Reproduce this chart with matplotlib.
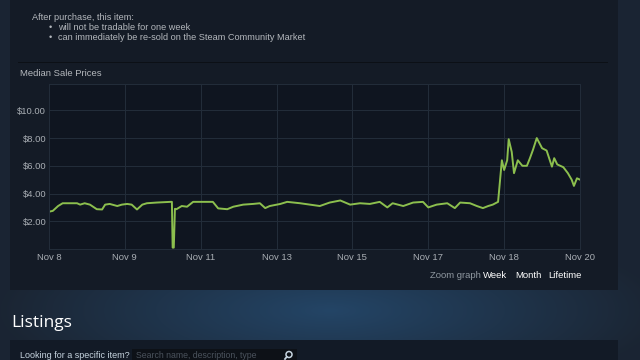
import numpy as np
import matplotlib
matplotlib.use("Agg")
import matplotlib.pyplot as plt
from matplotlib.patches import Rectangle, Circle

plt.rcParams['font.family'] = ['Liberation Sans', 'DejaVu Sans']

# x positions measured in tick intervals (0 = Nov 8, 7 = Nov 20)
tick_labels = ["Nov 8", "Nov 9", "Nov 11", "Nov 13", "Nov 15", "Nov 17", "Nov 18", "Nov 20"]
y_ticks = [2, 4, 6, 8, 10]

pos = [0.00, 0.05, 0.12, 0.18, 0.37, 0.41, 0.47, 0.54, 0.63, 0.70, 0.74, 0.80,
       0.90, 0.96, 1.03, 1.09, 1.16, 1.23, 1.29, 1.42, 1.60, 1.62, 1.63, 1.645,
       1.66, 1.68, 1.75, 1.82, 1.90, 2.16, 2.23, 2.35, 2.43, 2.56, 2.69, 2.78,
       2.85, 2.91, 3.05, 3.14, 3.31, 3.44, 3.57, 3.70, 3.84, 3.97, 4.10, 4.23,
       4.36, 4.46, 4.53, 4.67, 4.80, 4.93, 5.00, 5.11, 5.25, 5.35, 5.42, 5.55,
       5.64, 5.72, 5.79, 5.85, 5.92, 5.97, 6.00, 6.04, 6.06, 6.10, 6.13, 6.18,
       6.24, 6.30, 6.34, 6.38, 6.43, 6.50, 6.56, 6.63, 6.66, 6.70, 6.78, 6.84,
       6.89, 6.92, 6.96, 7.00]
price = [2.69, 2.75, 3.10, 3.30, 3.30, 3.20, 3.30, 3.20, 2.87, 2.85, 3.20, 3.25,
         3.10, 3.20, 3.25, 3.20, 2.85, 3.20, 3.30, 3.35, 3.40, 3.40, 0.10, 0.10,
         2.90, 2.87, 3.10, 3.05, 3.40, 3.40, 2.93, 2.87, 3.05, 3.20, 3.25, 3.30,
         2.95, 3.10, 3.25, 3.40, 3.30, 3.20, 3.10, 3.35, 3.50, 3.20, 3.30, 3.25,
         3.40, 3.00, 3.30, 3.10, 3.35, 3.40, 3.00, 3.20, 3.30, 2.95, 3.35, 3.30,
         3.10, 2.95, 3.10, 3.20, 3.40, 6.40, 5.70, 6.40, 7.92, 7.00, 5.47, 6.40,
         6.00, 6.00, 6.55, 7.15, 8.00, 7.27, 7.10, 5.94, 6.55, 6.10, 5.90, 5.47,
         5.00, 4.55, 5.10, 5.00]

W, H = 640, 360
fig = plt.figure(figsize=(6.4, 3.6), dpi=100)

# page background with a blue glow in the lower part
bg = fig.add_axes([0, 0, 1, 1])
yy, xx = np.mgrid[0:H, 0:W]
d = np.sqrt(((xx - 330) / 330.0) ** 2 + ((yy - 310) / 90.0) ** 2)
glow = np.clip(1 - d, 0, 1)[..., None]
base = np.array([0.105, 0.145, 0.20])
blue = np.array([0.14, 0.27, 0.40])
img = base * (1 - glow) + blue * glow
bg.imshow(img, extent=[0, W, H, 0], aspect='auto')
bg.set_xlim(0, W)
bg.set_ylim(H, 0)
bg.axis('off')


def rect(x0, y0, x1, y1, color, **kw):
    bg.add_patch(Rectangle((x0, y0), x1 - x0, y1 - y0, color=color, lw=0, **kw))


rect(10, 0, 618, 290, '#141b26')
rect(18, 62, 608, 63, '#0c1016')
rect(10, 340, 618, 360, '#121a26')
rect(132, 349, 297, 360, '#0d1117')

txt = '#b4b8bd'
bg.text(32, 17, "After purchase, this item:", color=txt, fontsize=6.6, va='center')
for yb, s in [(27, "will not be tradable for one week"),
              (37, "can immediately be re-sold on the Steam Community Market")]:
    bg.text(49, yb, "\u2022", color=txt, fontsize=6.5, va='center')
    bg.text(58, yb, s, color=txt, fontsize=6.6, va='center')
bg.text(20, 73, "Median Sale Prices", color=txt, fontsize=6.8, va='center')

bg.text(430, 275, "Zoom graph", color='#8f98a0', fontsize=6.8, va='center')
bg.text(483, 275, "Week", color='#ffffff', fontsize=6.8, va='center')
bg.text(515, 275, "Month", color='#ffffff', fontsize=6.8, va='center')
bg.text(548, 275, "Lifetime", color='#ffffff', fontsize=6.8, va='center')

bg.text(11, 323, "Listings", color='#ffffff', fontsize=12.5, va='center',
        family=['Open Sans', 'DejaVu Sans'])
bg.text(20, 355, "Looking for a specific item?", color='#c6d4df', fontsize=6.5, va='center')
bg.text(136, 355, "Search name, description, type", color='#4a525c', fontsize=6.3, va='center')
# magnifier icon
bg.add_patch(Circle((289, 354.5), 3, fill=False, ec='#c6d4df', lw=1.1))
bg.plot([286.8, 285], [356.8, 359], color='#c6d4df', lw=1.3)

# chart
ax = fig.add_axes([49 / W, 1 - 249 / H, 531 / W, 165 / H])
ax.set_facecolor('#0f1520')
ax.plot(pos, price, color='#8cbf4e', lw=1.4, solid_joinstyle='round')
ax.set_xlim(0, 7)
ax.set_ylim(0, 11.9)
ax.set_xticks(range(len(tick_labels)))
ax.set_xticklabels(tick_labels)
ax.set_yticks(y_ticks)
ax.set_yticklabels(["${:.2f}".format(v) for v in y_ticks])
ax.grid(True, color='#232d3a', lw=0.7)
ax.tick_params(length=0, colors='#a9aeb4', labelsize=6.8, pad=3)
ax.tick_params(axis='y', pad=2)
for sp in ax.spines.values():
    sp.set_color('#232d3a')
    sp.set_linewidth(0.7)

fig.savefig('out.png', dpi=100, facecolor=fig.get_facecolor())
